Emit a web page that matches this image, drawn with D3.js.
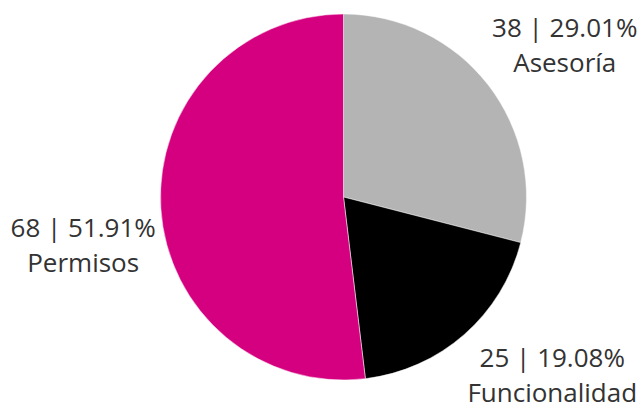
<!DOCTYPE html>
<html>
<head>
<meta charset="utf-8">
<script src="https://cdn.jsdelivr.net/npm/d3@7"></script>
<style>
  body { margin: 0; background: #fff; }
  text { font-family: "Open Sans", sans-serif; font-size: 26px; fill: #333; }
</style>
</head>
<body>
<script>
const categories = ['Asesoría', 'Funcionalidad', 'Permisos']
const counts = [38, 25, 68]
const percents = ['29.01%', '19.08%', '51.91%']
const colors = ['#b4b4b4', '#000000', '#d5007f']

const w = 642
const h = 404
const cx = 343.5
const cy = 197
const r = 183
const rLabel = 188

const data = categories.map((c, i) => ({ name: c, count: counts[i], pct: percents[i], color: colors[i] }))

const svg = d3.select('body')
  .append('svg')
  .attr('width', w)
  .attr('height', h)

const g = svg.append('g')
  .attr('transform', `translate(${cx},${cy})`)

const pie = d3.pie()
  .sort(null)
  .value(d => d.count)

const arc = d3.arc()
  .innerRadius(0)
  .outerRadius(r)

const arcs = pie(data)

g.selectAll('path')
  .data(arcs)
  .enter()
  .append('path')
  .attr('d', arc)
  .attr('fill', d => d.data.color)
  .attr('stroke', '#fff')
  .attr('stroke-width', 0.5)

// labels sit outside the slice, box anchored on a circle just past the edge
const labels = g.selectAll('g.label')
  .data(arcs)
  .enter()
  .append('g')
  .attr('class', 'label')

labels.append('text')
  .attr('class', 'l1')
  .attr('text-anchor', 'middle')
  .text(d => `${d.data.count} | ${d.data.pct}`)

labels.append('text')
  .attr('class', 'l2')
  .attr('text-anchor', 'middle')
  .attr('y', 35)
  .text(d => d.data.name)

labels.each(function (d) {
  const sel = d3.select(this)
  const a = (d.startAngle + d.endAngle) / 2
  const px = Math.sin(a) * rLabel
  const py = -Math.cos(a) * rLabel
  let bw = 0
  sel.selectAll('text').each(function () {
    bw = Math.max(bw, this.getComputedTextLength())
  })
  const x = px > 0 ? px + bw / 2 : px - bw / 2
  const top = py < 0 ? py - 74 : py
  sel.attr('transform', `translate(${x},${top + 29})`)
})
</script>
</body>
</html>
